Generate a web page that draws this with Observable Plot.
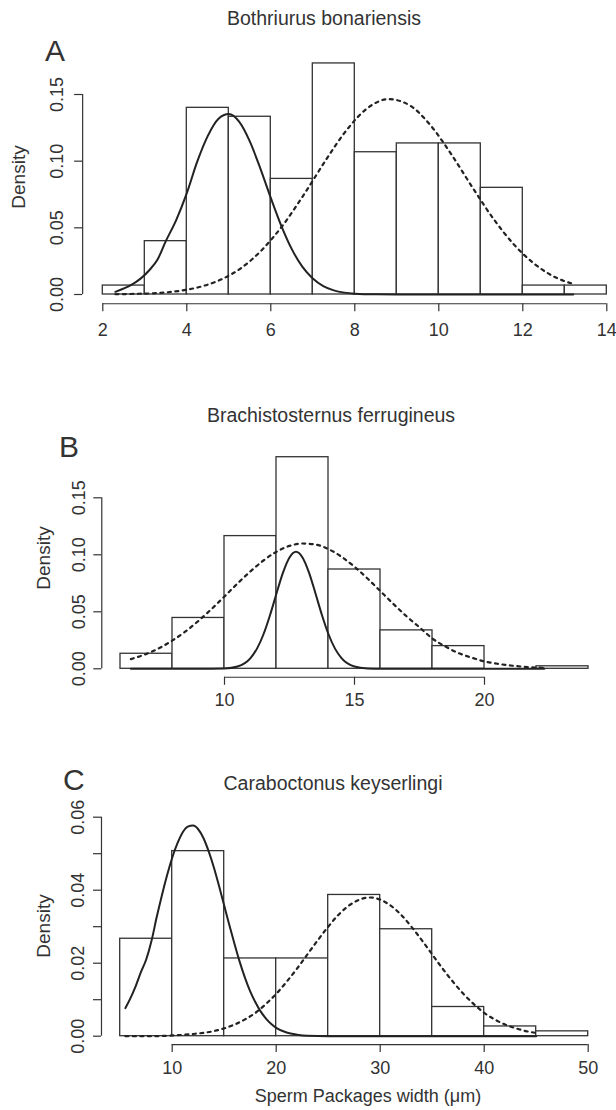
<!DOCTYPE html>
<html><head><meta charset="utf-8">
<script src="https://cdn.jsdelivr.net/npm/d3@7"></script>
<script src="https://cdn.jsdelivr.net/npm/@observablehq/plot@0.6"></script>
<style>
html,body{margin:0;padding:0;background:#fff;}
#page{position:relative;width:616px;height:1110px;overflow:hidden;font-family:"Liberation Sans",Arial,sans-serif;color:#333;}
.panel{position:absolute;left:0;}
.lab{position:absolute;white-space:nowrap;line-height:1;}
</style></head><body><div id="page"></div>
<script>
// ---------- Panel A: Bothriurus bonariensis ----------
const edgesA = [2,3,4,5,6,7,8,9,10,11,12,13,14];
const densA  = [0.0067,0.040,0.140,0.1333,0.0867,0.1733,0.1067,0.1133,0.1133,0.080,0.0067,0.0067];
const solidAx = [2.3,3.1,3.3,3.5,3.75,4,4.25,4.5,4.75,5,5.25,5.5,5.75,6,6.25,6.5,6.75,7,7.25,7.5,7.75,8,8.5,9,10,11,12,13.2];
const solidAy = [0.002,0.018,0.026,0.040,0.056,0.076,0.0998,0.119,0.1317,0.1353,0.1294,0.1148,0.0946,0.0724,0.0515,0.034,0.0209,0.012,0.0063,0.0031,0.0014,0.0006,0.0001,0,0,0,0,0];
const dashAx = [2.3,2.8,3.3,3.8,4.3,4.8,5.3,5.8,6.3,6.8,7.3,7.8,8.3,8.8,9.3,9.8,10.3,10.8,11.3,11.8,12.3,12.8,13.2];
const dashAy = [0.0002,0.0005,0.0011,0.0026,0.0056,0.011,0.020,0.0338,0.0525,0.0755,0.1003,0.1231,0.1397,0.1465,0.142,0.127,0.105,0.0804,0.0568,0.0371,0.0224,0.0125,0.008];
const xTicksA = [2,4,6,8,10,12,14];
const yTicksA = [0,0.05,0.10,0.15];
const yLabelsA = [0,0.05,0.10,0.15];

// ---------- Panel B: Brachistosternus ferrugineus ----------
const edgesB = [6,8,10,12,14,16,18,20,22,24];
const densB  = [0.0132,0.0446,0.1164,0.1856,0.0871,0.0337,0.0199,0,0.0022];
const solidBx = [6.4,7,8,9,10,10.5,11,11.25,11.5,11.75,12,12.25,12.5,12.75,13,13.25,13.5,13.75,14,14.25,14.5,15,15.5,16,18,20,22.3];
const solidBy = [0,0,0,0,0.0003,0.002,0.0094,0.0177,0.0303,0.047,0.0661,0.0844,0.0977,0.1026,0.0977,0.0844,0.0661,0.047,0.0303,0.0177,0.0094,0.002,0.0003,0,0,0,0];
const dashBx = [6.4,7,7.5,8,8.5,9,9.5,10,10.5,11,11.5,12,12.5,13,13.5,14,14.5,15,15.5,16,16.5,17,17.5,18,18.5,19,19.5,20,20.5,21,21.5,22,22.3];
const dashBy = [0.0085,0.0131,0.0183,0.0249,0.0328,0.0421,0.0524,0.0635,0.0748,0.0855,0.095,0.1027,0.1078,0.1099,0.109,0.105,0.0983,0.0895,0.0792,0.068,0.0568,0.0461,0.0364,0.0265,0.0195,0.0138,0.0098,0.0065,0.0044,0.0029,0.0018,0.0011,0.0009];
const xTicksB = [10,15,20];
const yTicksB = [0,0.05,0.10,0.15];
const yLabelsB = [0,0.05,0.10,0.15];

// ---------- Panel C: Caraboctonus keyserlingi ----------
const edgesC = [5,10,15,20,25,30,35,40,45,50];
const densC  = [0.0267,0.0507,0.0213,0.0213,0.0387,0.0293,0.0080,0.00267,0.00133];
const solidCx = [5.5,6,6.5,7,7.5,8,8.5,9,9.5,10,10.5,11,11.5,12,12.5,13,13.5,14,14.5,15,15.5,16,16.5,17,17.5,18,18.5,19,19.5,20,21,22,23,25,30,35,40,45];
const solidCy = [0.0077,0.0105,0.0138,0.0176,0.021,0.026,0.0325,0.0385,0.044,0.0489,0.0528,0.0558,0.0574,0.0577,0.0567,0.0543,0.0507,0.0463,0.0412,0.0358,0.0304,0.0252,0.0203,0.016,0.0123,0.0093,0.0068,0.0049,0.0034,0.0023,0.001,0.0004,0.0001,0,0,0,0,0];
const dashCx = [5.5,8,10,12,14,16,17,18,19,20,21,22,23,24,25,26,27,28,29,30,31,32,33,34,35,36,37,38,39,40,41,42,43,44,45];
const dashCy = [0,0,0.0002,0.0006,0.0014,0.0032,0.0046,0.0064,0.0088,0.0116,0.0149,0.0185,0.0224,0.0263,0.030,0.0333,0.0358,0.0374,0.038,0.0374,0.0358,0.0333,0.030,0.0263,0.0224,0.0185,0.0149,0.0116,0.0088,0.0064,0.0046,0.0032,0.0022,0.0014,0.0009];
const xTicksC = [10,20,30,40,50];
const yTicksC = [0,0.01,0.02,0.03,0.04,0.05,0.06];
const yLabelsC = [0,0.02,0.04,0.06];

const titles = ["Bothriurus bonariensis","Brachistosternus ferrugineus","Caraboctonus keyserlingi"];
const letters = ["A","B","C"];
const yLabel = "Density";
const xLabel = "Sperm Packages width (\u03bcm)";

// ---------- layout (page pixels) ----------
const INK = "#333";
const FONT = '"Liberation Sans", Arial, sans-serif';
const layouts = [
  {top:0,   height:345, xPx:[102.3,606.3], yPx:[294,94],      xLabOff:32, yLabOff:20,
   title:[324,26], letter:[45,61], dens:[18,177]},
  {top:380, height:340, xPx:[224,484],     yPx:[668.3,497.3], xLabOff:29, yLabOff:17,
   title:[331,423], letter:[59,457], dens:[42.5,558]},
  {top:740, height:340, xPx:[171.7,587.7], yPx:[1035.7,816.7], xLabOff:29, yLabOff:17,
   title:[333,791], letter:[63,790], dens:[42.5,926]}
];

const panels = [
  {edges:edgesA, dens:densA, sx:solidAx, sy:solidAy, dx:dashAx, dy:dashAy, xTicks:xTicksA, yTicks:yTicksA, yLabels:yLabelsA},
  {edges:edgesB, dens:densB, sx:solidBx, sy:solidBy, dx:dashBx, dy:dashBy, xTicks:xTicksB, yTicks:yTicksB, yLabels:yLabelsB},
  {edges:edgesC, dens:densC, sx:solidCx, sy:solidCy, dx:dashCx, dy:dashCy, xTicks:xTicksC, yTicks:yTicksC, yLabels:yLabelsC}
];

const page = document.getElementById("page");

function makePanel(p, L) {
  const bins = p.dens.map((d,i) => ({x0:p.edges[i], x1:p.edges[i+1], d}));
  const sol = p.sx.map((x,i) => ({x, y:p.sy[i]}));
  const dsh = p.dx.map((x,i) => ({x, y:p.dy[i]}));
  const xmin = p.edges[0], xmax = p.edges[p.edges.length-1];
  const ymax = Math.max(...p.dens, ...p.sy, ...p.dy);
  const xLo = xmin - 0.04*(xmax - xmin);
  const yLo = -0.04*ymax;
  const xd = [p.xTicks[0], p.xTicks[p.xTicks.length-1]];
  const yd = [0, p.yTicks[p.yTicks.length-1]];
  const X = d3.scaleLinear().domain(xd).range(L.xPx);
  const Y = d3.scaleLinear().domain(yd).range(L.yPx.map(v => v - L.top));
  const marginLeft = X(xLo);
  const frameBottom = Y(yLo);
  return Plot.plot({
    width:616, height:L.height,
    marginLeft, marginRight:0, marginTop:0, marginBottom:L.height - frameBottom,
    x:{domain:xd, range:X.range()},
    y:{domain:yd, range:Y.range()},
    style:{background:"transparent", overflow:"visible", fontFamily:FONT, color:INK},
    marks:[
      Plot.rectY(bins, {x1:"x0", x2:"x1", y1:0, y2:"d", fill:"white", stroke:INK, strokeWidth:1.3}),
      Plot.line(sol, {x:"x", y:"y", curve:"monotone-x", stroke:"#222", strokeWidth:2}),
      Plot.line(dsh, {x:"x", y:"y", curve:"monotone-x", stroke:"#222", strokeWidth:2.2, strokeDasharray:"3,4.5"}),
      Plot.ruleX([xLo], {y1:yd[0], y2:yd[1], stroke:INK, strokeWidth:1.2}),
      Plot.ruleY([yLo], {x1:xd[0], x2:xd[1], stroke:INK, strokeWidth:1.2}),
      Plot.axisY({ticks:p.yTicks, tickSize:8, tickFormat:() => "", label:null, stroke:INK, strokeWidth:1.2}),
      Plot.axisX({ticks:p.xTicks, tickSize:8, tickFormat:() => "", label:null, stroke:INK, strokeWidth:1.2}),
      Plot.text(p.yLabels, {x:xLo, y:d => d, text:d => d.toFixed(2), rotate:-90, dx:-L.yLabOff,
        lineAnchor:"bottom", textAnchor:"middle", fontSize:18, fill:INK}),
      Plot.text(p.xTicks, {x:d => d, y:yLo, text:d => String(d), dy:L.xLabOff,
        lineAnchor:"bottom", textAnchor:"middle", fontSize:18, fill:INK})
    ]
  });
}

panels.forEach((p,i) => {
  const L = layouts[i];
  const wrap = document.createElement("div");
  wrap.className = "panel";
  wrap.style.top = L.top + "px";
  wrap.appendChild(makePanel(p, L));
  page.appendChild(wrap);
});

function label(text, x, y, size, opts = {}) {
  const d = document.createElement("div");
  d.className = "lab";
  d.textContent = text;
  d.style.fontSize = size + "px";
  d.style.left = x + "px";
  d.style.top = y + "px";
  d.style.transform = opts.transform || "translate(-50%, -0.85em)";
  page.appendChild(d);
  return d;
}

layouts.forEach((L,i) => {
  label(titles[i], L.title[0], L.title[1], 19.5);
  label(letters[i], L.letter[0], L.letter[1], 30, {transform:"translate(0, -0.85em)"});
  label(yLabel, L.dens[0], L.dens[1], 19, {transform:"translate(-50%, -50%) rotate(-90deg)"});
});
label(xLabel, 368, 1102, 18);
</script>
</body></html>
